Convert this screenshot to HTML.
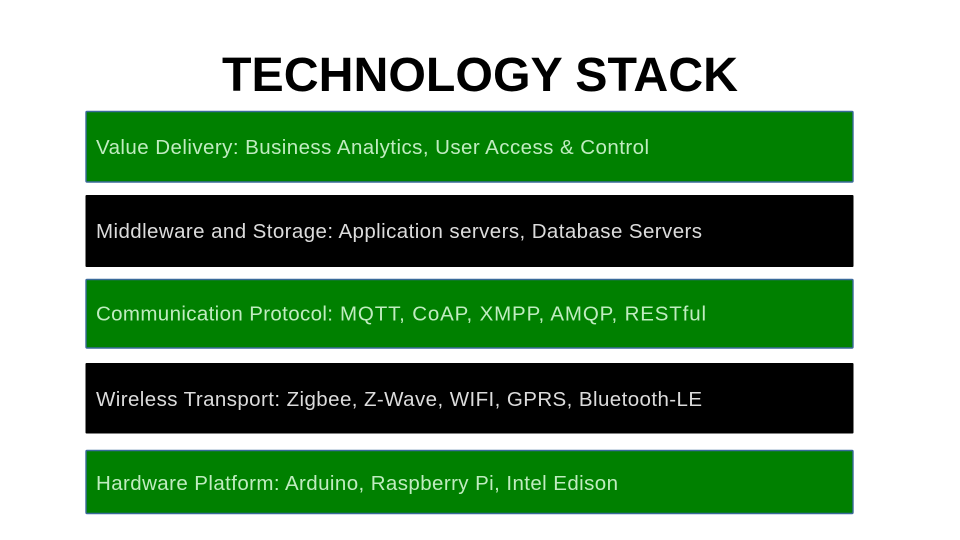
<!DOCTYPE html>
<html>
<head>
<meta charset="utf-8">
<style>
html,body{margin:0;padding:0;background:#fff;}
svg{display:block;}
text{font-family:"Liberation Sans",Arial,sans-serif;}
.l{font-size:20.5px;}
.g{fill:#c0ecc0;}
.k{fill:#dcdcdc;}
</style>
</head>
<body>
<svg width="960" height="540" viewBox="0 0 960 540" xmlns="http://www.w3.org/2000/svg">
<rect width="960" height="540" fill="#fff"/>
<text x="222" y="91" font-size="48" font-weight="bold" fill="#000" textLength="516" lengthAdjust="spacingAndGlyphs">TECHNOLOGY STACK</text>

<rect x="86" y="111.5" width="767" height="70.5" rx="1" fill="#008000" stroke="#3a6a9a" stroke-width="1.4"/>
<text class="l g" x="96" y="154" textLength="553" lengthAdjust="spacing">Value Delivery: Business Analytics, User Access &amp; Control</text>

<rect x="85.5" y="195" width="768" height="72" rx="1" fill="#000"/>
<text class="l k" x="96" y="238" textLength="606" lengthAdjust="spacing">Middleware and Storage: Application servers, Database Servers</text>

<rect x="86" y="279.5" width="767" height="68.5" rx="1" fill="#008000" stroke="#3a6a9a" stroke-width="1.4"/>
<text class="l g" x="96" y="320.5" textLength="237" lengthAdjust="spacing">Communication Protocol:</text>
<text class="l g" x="340" y="320.5" textLength="366" lengthAdjust="spacing">MQTT, CoAP, XMPP, AMQP, RESTful</text>

<rect x="85.5" y="363" width="768" height="70.5" rx="1" fill="#000"/>
<text class="l k" x="96" y="406" textLength="606" lengthAdjust="spacing">Wireless Transport: Zigbee, Z-Wave, WIFI, GPRS, Bluetooth-LE</text>

<rect x="86" y="450.5" width="767" height="63" rx="1" fill="#008000" stroke="#3a6a9a" stroke-width="1.4"/>
<text class="l g" x="96" y="490" textLength="522" lengthAdjust="spacing">Hardware Platform: Arduino, Raspberry Pi, Intel Edison</text>
</svg>
</body>
</html>
